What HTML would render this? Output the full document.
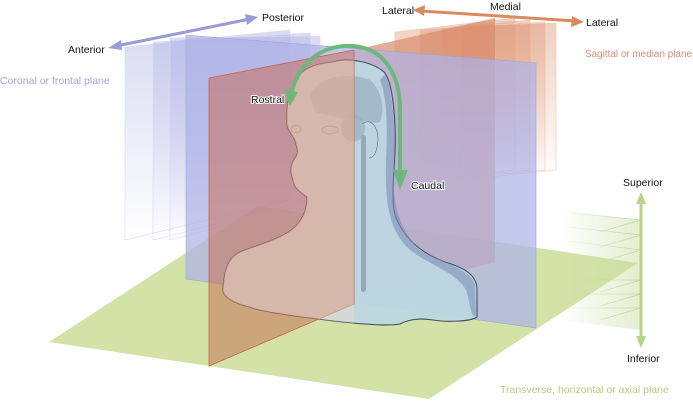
<!DOCTYPE html>
<html><head><meta charset="utf-8"><style>
html,body{margin:0;padding:0;background:#fff;}
svg{display:block;font-family:"Liberation Sans",sans-serif;}
</style></head><body>
<svg width="693" height="403" viewBox="0 0 693 403" xmlns="http://www.w3.org/2000/svg">
<defs>
<linearGradient id="fadeB" x1="0" y1="0" x2="0" y2="1">
<stop offset="0" stop-color="#b4b8e6" stop-opacity="0.5"/><stop offset="1" stop-color="#b4b8e6" stop-opacity="0"/>
</linearGradient>
<linearGradient id="fadeR" x1="0" y1="0" x2="0" y2="1">
<stop offset="0" stop-color="#e0a080" stop-opacity="0.5"/><stop offset="1" stop-color="#e0a080" stop-opacity="0"/>
</linearGradient>
<linearGradient id="fadeG" x1="1" y1="0" x2="0" y2="0">
<stop offset="0" stop-color="#c8dca0" stop-opacity="0.5"/><stop offset="1" stop-color="#c8dca0" stop-opacity="0"/>
</linearGradient>
<linearGradient id="fadeL" x1="1" y1="0" x2="0" y2="0">
<stop offset="0" stop-color="#bfd69a" stop-opacity="1"/><stop offset="1" stop-color="#bfd69a" stop-opacity="0"/>
</linearGradient>
<clipPath id="leftc"><rect x="0" y="0" width="354" height="403"/></clipPath>
<path id="headp" d="M333,62 C345,58 370,60 384,72 C393,82 396,120 395,150 C394,175 391,200 395,215 C402,235 418,252 445,262 C465,268 477,275 477,290 L477,317 C470,322 445,322 433,320 C420,318 410,319 400,324 C385,327 340,322 310,318 C280,314 255,310 250,307 C232,303 223,296 223,290 C224,270 228,258 240,252 C260,244 285,238 297,225 C305,215 307,207 307,197 C300,192 294,188 293,180 C290,172 290,165 295,158 C300,152 296,146 295,140 C291,133 286,128 287,120 C286,100 292,80 305,70 C313,65 322,63 333,62 Z"/>
</defs>
<polygon points="49,342 258,206 638,263 429,399" fill="#d3e3a8"/>
<polygon points="560,210 641,220 641,330 560,320" fill="url(#fadeG)"/>
<g stroke="url(#fadeL)" stroke-width="0.8" fill="none">
<polyline points="560,212 641,220 600,232"/>
<polyline points="560,226 641,235 600,247"/>
<polyline points="560,240 641,250 600,262"/>
<polyline points="560,280 641,280 600,292"/>
<polyline points="560,294 641,294 600,306"/>
<polyline points="560,308 641,308 600,320"/>
</g>
<g fill="url(#fadeR)" stroke="#f0c8b4" stroke-width="0.6">
<polygon points="395,32 515,18 515,170 395,180"/>
<polygon points="420,30 530,20 530,170 420,180"/>
<polygon points="440,28 545,22 545,170 440,180"/>
<polygon points="460,26 556,23 556,170 460,180"/>
</g>
<g fill="url(#fadeB)" stroke="#d6d8f2" stroke-width="0.6">
<polygon points="125,47 290,30 290,200 125,240"/>
<polygon points="153,42 310,33 310,200 153,240"/>
<polygon points="170,38 320,36 320,200 170,240"/>
</g>
<polygon points="354,50 495,18 495,262 354,300" fill="#d88a6a" fill-opacity="0.7"/>
<polygon points="186,35 536,63 536,328 186,279" fill="#aeb3e6" fill-opacity="0.72" stroke="#9da3dc" stroke-width="0.6"/>
<use href="#headp" fill="#bcd8e2" fill-opacity="0.92" stroke="#3e4d5e" stroke-width="1.1"/>
<path d="M385,74 C393,90 396,130 394,170 C392,200 398,228 420,250 C440,262 470,268 475,285 L476,316 C470,318 470,300 466,290 C455,270 420,262 405,245 C388,225 385,200 386,160 C388,120 386,95 380,80 Z" fill="#7f90b8" fill-opacity="0.6"/>
<path d="M310,95 C320,75 350,72 370,80 C382,90 385,110 380,122 C370,125 360,118 340,118 L315,112 Z" fill="#9aaebf" fill-opacity="0.7"/>
<ellipse cx="353" cy="128" rx="12" ry="14" fill="#9aaebf" fill-opacity="0.7"/>
<path d="M362,124 C370,118 378,125 378,140 C377,152 374,158 369,158" fill="none" stroke="#6b7a8a" stroke-width="0.7"/>
<rect x="361" y="135" width="5" height="157" rx="2.5" fill="#95a9ba"/>
<ellipse cx="330" cy="130" rx="8" ry="4" fill="none" stroke="#6b7a8a" stroke-width="0.7"/>
<ellipse cx="296" cy="129" rx="5" ry="3.5" fill="none" stroke="#6b7a8a" stroke-width="0.7"/>
<line x1="354" y1="50" x2="354" y2="305" stroke="#8e9aae" stroke-width="0.6"/>
<polygon points="209,78 354,50 354,304 209,366" fill="#c8674e" fill-opacity="0.5" stroke="#c46448" stroke-width="0.8"/>
<use href="#headp" clip-path="url(#leftc)" fill="#f2dccd" fill-opacity="0.4"/>
<path d="M291,95 C300,55 330,45 352,46 C385,48 400,75 400,110 L400,175" fill="none" stroke="#6cb87a" stroke-width="4"/>
<polygon points="284,90 298,92 290,106" fill="#6cb87a"/>
<polygon points="393,170 408,170 400,190" fill="#6cb87a"/>
<line x1="116" y1="46" x2="250" y2="19" stroke="#9b9bdb" stroke-width="3"/>
<polygon points="108,48 121,40 122,50" fill="#9b9bdb"/>
<polygon points="258,17 245,14 247,25" fill="#9b9bdb"/>
<line x1="421" y1="11" x2="576" y2="21" stroke="#d98b5f" stroke-width="3"/>
<polygon points="413,10 425,5 424,16" fill="#d98b5f"/>
<polygon points="584,22 572,16 571,27" fill="#d98b5f"/>
<line x1="641" y1="200" x2="641" y2="340" stroke="#b8d48a" stroke-width="3"/>
<polygon points="641,192 636,204 646,204" fill="#b8d48a"/>
<polygon points="641,348 636,336 646,336" fill="#b8d48a"/>
<g font-size="10.5" fill="#111">
<text x="68" y="53">Anterior</text>
<text x="262" y="21">Posterior</text>
<text x="382" y="14">Lateral</text>
<text x="490" y="10">Medial</text>
<text x="586" y="26">Lateral</text>
<text x="251" y="103" stroke="#fff" stroke-width="2" paint-order="stroke">Rostral</text>
<text x="411" y="189" stroke="#fff" stroke-width="2" paint-order="stroke">Caudal</text>
<text x="623" y="186">Superior</text>
<text x="627" y="362">Inferior</text>
</g>
<text x="0" y="84" font-size="10.5" fill="#a0a8d8">Coronal or frontal plane</text>
<text x="585" y="57" font-size="10" fill="#cf8f78" textLength="107" lengthAdjust="spacingAndGlyphs">Sagittal or median plane</text>
<text x="500" y="393" font-size="10.5" fill="#b5cc7a">Transverse, horizontal or axial plane</text>
</svg>
</body></html>
